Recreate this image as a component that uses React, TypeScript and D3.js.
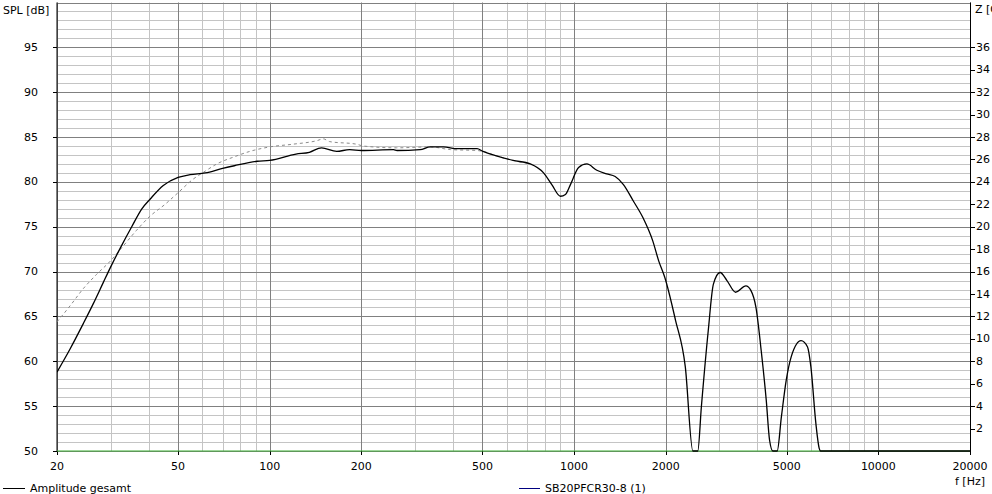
import React from "react";
import * as d3 from "d3";

// ---- data ----
const xTickLabels = [20, 50, 100, 200, 500, 1000, 2000, 5000, 10000, 20000];
const splTicks = [50, 55, 60, 65, 70, 75, 80, 85, 90, 95];
const zTicks = [2, 4, 6, 8, 10, 12, 14, 16, 18, 20, 22, 24, 26, 28, 30, 32, 34, 36];

const totalFreq = [20, 22.1, 24.4, 26.3, 28.4, 30, 32.6, 35.2, 38, 40.5, 44.7, 50, 54.7, 61.4, 70, 76.5, 91, 100, 122, 135, 148, 166, 183, 200, 255, 262, 312, 337, 372, 413, 480, 502, 556, 630, 718, 794, 845, 902, 937, 973, 1035, 1102, 1188, 1280, 1365, 1453, 1564, 1685, 1815, 1897, 1985, 2154, 2320, 2457, 2550, 2620, 2760, 2870, 3020, 3180, 3395, 3670, 3810, 3960, 4120, 4280, 4390, 4500, 4650, 4800, 4980, 5170, 5570, 5850, 6000, 6230, 6390, 6450, 20000];
const totalDb = [58.8, 61.4, 64.2, 66.4, 68.8, 70.5, 72.9, 75.0, 77.0, 78.1, 79.6, 80.5, 80.8, 81.0, 81.5, 81.8, 82.3, 82.4, 83.1, 83.3, 83.8, 83.4, 83.6, 83.5, 83.6, 83.5, 83.6, 83.9, 83.9, 83.7, 83.7, 83.4, 82.9, 82.4, 82.0, 81.0, 79.7, 78.4, 78.6, 79.7, 81.6, 82.0, 81.3, 80.9, 80.6, 79.7, 77.9, 76.0, 73.4, 71.2, 69.4, 64.6, 59.4, 50, 50, 54.9, 63.4, 68.6, 69.9, 69.0, 67.7, 68.4, 67.9, 66.0, 61.2, 55.7, 51.2, 50, 50, 53.8, 57.9, 60.5, 62.3, 61.6, 59.4, 53.1, 50.3, 50, 50];

const driverFreq = [20, 22.1, 24.4, 27, 30, 33.1, 36.5, 40.5, 45.3, 50, 56, 61.4, 67, 76.5, 86, 100, 119, 143, 150, 157, 193, 203, 261, 337, 393, 480, 502, 556, 630, 718];
const driverDb = [64.4, 66.2, 68.1, 69.7, 71.2, 72.9, 74.6, 76.2, 77.5, 78.8, 80.3, 81.2, 82.0, 82.8, 83.4, 83.9, 84.2, 84.6, 84.8, 84.5, 84.2, 84.0, 83.8, 83.9, 83.6, 83.5, 83.4, 82.9, 82.4, 82.0];

const impFreq = [20, 20000];
const impOhm = [0, 0];

const legendLabels = ["Amplitude gesamt", "SB20PFCR30-8 (1)"];

// ---- layout ----
const W = 992, H = 494;
const L = 57, R = 970, T = 2.5, B = 451;
const FONT = "'DejaVu Sans', Verdana, sans-serif";

export default function App() {
  const x = d3.scaleLog().domain([20, 20000]).range([L, R]);
  const y = d3.scaleLinear().domain([50, 100]).range([B, T]);
  const yz = d3.scaleLinear().domain([0, 40]).range([B, T]);

  const decades = [10, 100, 1000, 10000];
  const vMinor: number[] = [];
  decades.forEach((d) => {
    for (let k = 1; k <= 9; k++) {
      const f = d * k;
      if (f > 20 && f < 20000 && !xTickLabels.includes(f)) vMinor.push(f);
    }
  });
  const hMinor = d3.range(50, 101).filter((v) => v % 5 !== 0);
  const hMajor = d3.range(50, 101, 5);

  const line = d3
    .line<[number, number]>()
    .x((d) => x(d[0]))
    .y((d) => y(d[1]))
    .curve(d3.curveMonotoneX);
  const zline = d3
    .line<[number, number]>()
    .x((d) => x(d[0]))
    .y((d) => yz(d[1]));

  const total = totalFreq.map((f, i) => [f, totalDb[i]] as [number, number]);
  const driver = driverFreq.map((f, i) => [f, driverDb[i]] as [number, number]);
  const imp = impFreq.map((f, i) => [f, impOhm[i]] as [number, number]);

  const minorC = "#c4c4c4";
  const majorC = "#808080";
  const py = (v: number) => Math.round(y(v)) + 0.5;
  const px = (f: number) => Math.round(x(f)) + 0.5;

  return (
    <svg
      width={W}
      height={H}
      style={{ position: "absolute", left: 0, top: 0, background: "#fff" }}
      fontFamily={FONT}
      fontSize={11}
    >
      <rect x={0} y={0} width={W} height={H} fill="#fff" />
      <defs>
        <clipPath id="plot">
          <rect x={L} y={T} width={R - L} height={B - T + 1} />
        </clipPath>
      </defs>
      {hMinor.map((v) => (
        <line key={"hm" + v} x1={L} x2={R} y1={py(v)} y2={py(v)} stroke={minorC} strokeWidth={1} />
      ))}
      {vMinor.map((f) => (
        <line key={"vm" + f} x1={px(f)} x2={px(f)} y1={T} y2={B} stroke={minorC} strokeWidth={1} />
      ))}
      {hMajor.map((v) => (
        <line key={"hM" + v} x1={L} x2={R} y1={py(v)} y2={py(v)} stroke={majorC} strokeWidth={1} />
      ))}
      {xTickLabels.map((f) => (
        <line key={"vM" + f} x1={px(f)} x2={px(f)} y1={T} y2={B} stroke={majorC} strokeWidth={1} />
      ))}

      {splTicks.map((v) => (
        <g key={"sl" + v}>
          <line x1={L - 4} x2={L} y1={py(v)} y2={py(v)} stroke="#000" />
          <text x={38} y={y(v)} textAnchor="end" dominantBaseline="central" fill="#000">
            {v}
          </text>
        </g>
      ))}
      <text x={3} y={10} dominantBaseline="central" fill="#000">SPL [dB]</text>

      <line x1={R + 0.5} x2={R + 0.5} y1={T} y2={B + 3} stroke="#000" />
      {zTicks.map((v) => (
        <g key={"zr" + v}>
          <line x1={R} x2={R + 5} y1={Math.round(yz(v)) + 0.5} y2={Math.round(yz(v)) + 0.5} stroke="#000" />
          <text x={R + 6} y={yz(v)} dominantBaseline="central" fill="#000">
            {v}
          </text>
        </g>
      ))}
      <text x={R + 5} y={9} dominantBaseline="central" fill="#000">Z [Ohm]</text>

      <line x1={L} x2={L} y1={T} y2={B} stroke="#000" />
      {xTickLabels.map((f) => (
        <g key={"xl" + f}>
          <line x1={px(f)} x2={px(f)} y1={B} y2={B + 4} stroke="#000" />
          <text x={x(f)} y={466} textAnchor="middle" dominantBaseline="central" fill="#000">
            {f}
          </text>
        </g>
      ))}
      <text x={985} y={481} textAnchor="end" dominantBaseline="central" fill="#000">f [Hz]</text>

      <g clipPath="url(#plot)">
        <path d={zline(imp) ?? ""} fill="none" stroke="#3cb034" strokeWidth={1.2} />
        <path d={line(driver) ?? ""} fill="none" stroke="#8a8a8a" strokeWidth={1} strokeDasharray="3,3" />
        <path d={line(total) ?? ""} fill="none" stroke="#000" strokeWidth={1.3} />
      </g>

      <line x1={3} x2={25} y1={488.5} y2={488.5} stroke="#000" strokeWidth={1} />
      <text x={30} y={488} dominantBaseline="central" fill="#000">{legendLabels[0]}</text>
      <line x1={519} x2={540} y1={488.5} y2={488.5} stroke="#000080" strokeWidth={1} />
      <text x={545} y={488} dominantBaseline="central" fill="#000">{legendLabels[1]}</text>
    </svg>
  );
}
